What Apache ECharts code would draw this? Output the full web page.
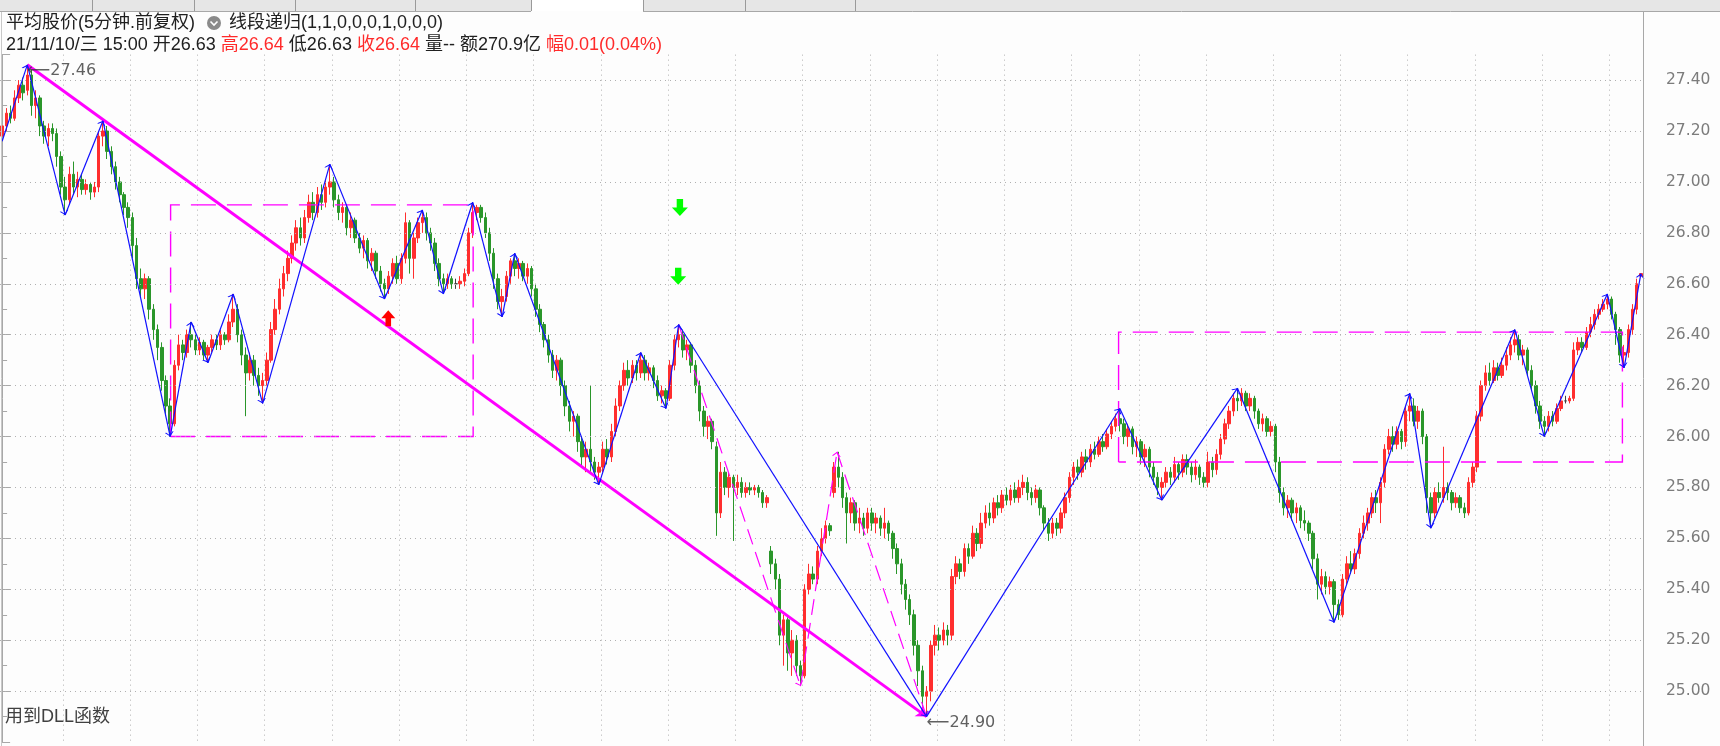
<!DOCTYPE html>
<html><head><meta charset="utf-8">
<script src="https://cdn.jsdelivr.net/npm/echarts@6/dist/echarts.min.js"></script>
<style>html,body{margin:0;padding:0;background:#fdfdfd;}#c{width:1720px;height:746px;}</style>
</head><body><div id="c"></div>
<script>
// [open, close, low, high] per 5-minute bar
const candles = [
[27.18,27.22,27.16,27.24],[27.22,27.27,27.20,27.29],[27.27,27.25,27.23,27.30],[27.25,27.33,27.24,27.36],[27.33,27.38,27.31,27.40],[27.38,27.35,27.32,27.41],[27.36,27.42,27.34,27.46],
[27.42,27.30,27.26,27.44],[27.30,27.33,27.25,27.36],[27.33,27.22,27.18,27.34],[27.22,27.18,27.15,27.24],[27.18,27.21,27.14,27.23],[27.21,27.19,27.16,27.23],[27.19,27.10,27.06,27.21],[27.10,26.98,26.95,27.12],[26.98,26.93,26.87,27.02],
[26.93,27.03,26.91,27.06],[27.03,26.98,26.95,27.08],[26.98,27.01,26.94,27.04],[27.01,26.97,26.95,27.03],[26.97,26.99,26.95,27.01],[26.99,26.96,26.93,27.00],[26.96,26.98,26.94,27.00],[26.98,27.18,26.96,27.20],[27.18,27.20,27.14,27.24],
[27.20,27.12,27.09,27.22],[27.12,27.06,27.03,27.14],[27.06,27.00,26.97,27.08],[27.00,26.95,26.92,27.02],[26.95,26.90,26.87,26.96],[26.90,26.86,26.82,26.92],[26.86,26.75,26.70,26.88],[26.75,26.62,26.58,26.78],[26.62,26.58,26.55,26.66],[26.58,26.62,26.54,26.64],[26.62,26.50,26.46,26.63],[26.50,26.42,26.38,26.52],[26.42,26.35,26.30,26.44],[26.35,26.22,26.18,26.37],[26.22,26.12,26.08,26.24],[26.12,26.05,26.00,26.15],
[26.05,26.28,26.04,26.30],[26.28,26.36,26.26,26.40],[26.36,26.33,26.30,26.38],[26.33,26.40,26.31,26.42],[26.40,26.38,26.35,26.45],
[26.38,26.34,26.32,26.40],[26.34,26.37,26.32,26.39],[26.37,26.32,26.30,26.38],[26.32,26.35,26.29,26.36],
[26.35,26.38,26.33,26.40],[26.38,26.36,26.34,26.40],[26.36,26.40,26.34,26.42],[26.40,26.38,26.36,26.41],[26.38,26.45,26.37,26.48],[26.45,26.50,26.43,26.56],
[26.50,26.40,26.37,26.52],[26.40,26.32,26.28,26.42],[26.32,26.25,26.08,26.35],[26.25,26.30,26.22,26.33],[26.30,26.24,26.20,26.32],[26.24,26.20,26.16,26.27],[26.20,26.22,26.13,26.25],
[26.22,26.30,26.20,26.33],[26.30,26.42,26.29,26.45],[26.42,26.50,26.40,26.54],[26.50,26.58,26.48,26.62],[26.58,26.64,26.55,26.67],[26.64,26.70,26.61,26.73],[26.70,26.76,26.68,26.79],[26.76,26.82,26.73,26.85],[26.82,26.78,26.75,26.86],[26.78,26.86,26.76,26.89],[26.86,26.92,26.84,26.95],[26.92,26.88,26.85,26.96],[26.88,26.95,26.86,26.98],[26.95,26.92,26.89,26.99],[26.92,26.98,26.90,27.01],[26.98,27.00,26.95,27.07],
[27.00,26.93,26.90,27.02],[26.93,26.88,26.85,26.95],[26.88,26.90,26.84,26.92],[26.90,26.82,26.79,26.91],[26.82,26.85,26.78,26.88],[26.85,26.78,26.76,26.86],[26.78,26.74,26.72,26.80],[26.74,26.77,26.70,26.79],[26.77,26.69,26.66,26.78],[26.69,26.72,26.65,26.74],[26.72,26.65,26.62,26.73],[26.65,26.60,26.57,26.67],[26.60,26.58,26.54,26.62],
[26.58,26.63,26.56,26.65],[26.63,26.68,26.60,26.70],[26.68,26.62,26.60,26.71],[26.62,26.70,26.60,26.72],[26.70,26.84,26.68,26.88],[26.84,26.70,26.64,26.85],[26.70,26.78,26.62,26.80],[26.78,26.84,26.76,26.86],[26.84,26.86,26.80,26.89],
[26.86,26.80,26.77,26.88],[26.80,26.76,26.73,26.82],[26.76,26.68,26.65,26.78],[26.68,26.62,26.59,26.70],[26.62,26.60,26.56,26.64],
[26.60,26.62,26.58,26.64],[26.62,26.60,26.58,26.63],[26.60,26.60,26.58,26.62],[26.60,26.61,26.58,26.63],[26.61,26.64,26.59,26.66],[26.64,26.80,26.63,26.82],[26.80,26.88,26.78,26.92],
[26.88,26.90,26.85,26.91],[26.90,26.86,26.84,26.91],[26.86,26.80,26.78,26.88],[26.80,26.72,26.69,26.82],[26.72,26.62,26.58,26.74],[26.62,26.53,26.50,26.64],[26.53,26.55,26.47,26.58],
[26.55,26.63,26.53,26.65],[26.63,26.69,26.60,26.70],[26.69,26.66,26.63,26.72],
[26.66,26.68,26.62,26.70],[26.68,26.63,26.61,26.69],[26.63,26.66,26.60,26.68],[26.66,26.58,26.55,26.67],[26.58,26.50,26.47,26.60],[26.50,26.44,26.41,26.52],[26.44,26.38,26.35,26.45],[26.38,26.32,26.29,26.40],[26.32,26.26,26.23,26.34],[26.26,26.30,26.22,26.32],[26.30,26.20,26.16,26.31],[26.20,26.12,26.08,26.22],[26.12,26.06,26.02,26.14],[26.06,26.08,26.00,26.10],[26.08,25.98,25.94,26.09],[25.98,25.92,25.88,26.00],[25.92,25.95,25.86,25.98],[25.95,25.90,25.86,26.20],[25.90,25.86,25.83,25.92],[25.86,25.88,25.81,25.90],
[25.88,25.95,25.86,25.98],[25.95,25.92,25.89,25.99],[25.92,26.02,25.90,26.05],[26.02,26.12,26.00,26.15],[26.12,26.20,26.10,26.22],[26.20,26.26,26.18,26.29],[26.26,26.23,26.20,26.30],[26.23,26.28,26.21,26.30],[26.28,26.25,26.22,26.30],[26.25,26.30,26.23,26.33],
[26.30,26.25,26.22,26.32],[26.25,26.27,26.22,26.29],[26.27,26.22,26.19,26.28],[26.22,26.16,26.14,26.24],[26.16,26.18,26.13,26.20],[26.18,26.15,26.11,26.19],
[26.15,26.28,26.14,26.30],[26.28,26.38,26.26,26.40],[26.38,26.40,26.35,26.44],
[26.40,26.34,26.31,26.42],[26.34,26.36,26.30,26.38],[26.36,26.28,26.25,26.37],[26.28,26.20,26.17,26.30],[26.20,26.10,26.06,26.22],[26.10,26.04,26.00,26.12],[26.04,26.06,25.99,26.08],[26.06,25.98,25.95,26.07],[25.96,25.70,25.61,25.98],[25.70,25.86,25.68,25.90],[25.86,25.80,25.77,25.88],[25.80,25.84,25.76,25.86],[25.84,25.80,25.59,25.85],[25.80,25.82,25.77,25.85],[25.82,25.78,25.76,25.84],[25.78,25.80,25.76,25.82],[25.80,25.79,25.77,25.82],[25.79,25.80,25.77,25.81],[25.80,25.78,25.76,25.81],[25.78,25.74,25.72,25.79],[25.74,25.76,25.72,25.77],
[25.55,25.50,25.46,25.57],[25.50,25.44,25.40,25.52],[25.44,25.22,25.18,25.46],[25.22,25.28,25.10,25.30],[25.28,25.15,25.08,25.29],[25.15,25.20,25.06,25.24],[25.20,25.10,25.06,25.22],[25.10,25.06,25.02,25.12],
[25.06,25.40,25.05,25.42],[25.40,25.46,25.38,25.50],[25.46,25.44,25.42,25.49],[25.44,25.55,25.42,25.57],[25.55,25.60,25.53,25.64],[25.60,25.65,25.58,25.67],[25.65,25.63,25.61,25.66],[25.78,25.88,25.76,25.90],[25.88,25.84,25.80,25.94],
[25.84,25.76,25.72,25.86],[25.76,25.70,25.58,25.78],[25.70,25.74,25.66,25.76],[25.74,25.66,25.63,25.75],[25.66,25.68,25.62,25.72],[25.68,25.64,25.61,25.70],[25.64,25.70,25.62,25.72],[25.70,25.66,25.63,25.72],[25.66,25.68,25.62,25.70],[25.68,25.64,25.61,25.69],[25.64,25.66,25.60,25.72],[25.66,25.62,25.59,25.67],[25.62,25.56,25.52,25.63],[25.56,25.50,25.46,25.58],[25.50,25.42,25.38,25.52],[25.42,25.36,25.32,25.44],[25.36,25.30,25.26,25.38],[25.30,25.18,25.14,25.32],[25.18,25.08,25.02,25.20],[25.08,24.98,24.94,25.10],[24.98,25.00,24.90,25.02],
[25.00,25.18,24.96,25.20],[25.18,25.22,25.14,25.26],[25.22,25.20,25.16,25.25],[25.20,25.24,25.18,25.27],[25.24,25.22,25.18,25.26],[25.22,25.45,25.20,25.48],[25.45,25.50,25.42,25.53],[25.50,25.47,25.44,25.52],[25.47,25.56,25.45,25.58],[25.56,25.53,25.50,25.58],[25.53,25.62,25.52,25.65],[25.62,25.58,25.55,25.64],[25.58,25.66,25.56,25.70],[25.66,25.70,25.64,25.73],[25.70,25.68,25.65,25.74],[25.68,25.74,25.66,25.76],[25.74,25.72,25.69,25.77],[25.72,25.77,25.70,25.79],[25.77,25.75,25.73,25.80],[25.75,25.79,25.73,25.81],[25.79,25.76,25.74,25.82],[25.76,25.80,25.74,25.83],[25.80,25.82,25.77,25.85],[25.82,25.78,25.75,25.84],[25.78,25.76,25.73,25.80],[25.76,25.79,25.74,25.81],[25.79,25.72,25.69,25.80],[25.72,25.66,25.63,25.73],[25.66,25.62,25.59,25.68],[25.62,25.66,25.60,25.68],[25.66,25.64,25.61,25.68],[25.64,25.70,25.62,25.72],[25.70,25.76,25.68,25.78],[25.76,25.84,25.74,25.86],[25.84,25.88,25.81,25.90],[25.88,25.86,25.83,25.91],[25.86,25.92,25.84,25.94],[25.92,25.90,25.87,25.95],[25.90,25.95,25.88,25.97],[25.95,25.93,25.91,25.98],[25.93,25.98,25.92,26.00],[25.98,25.96,25.94,26.01],[25.96,26.01,25.95,26.03],[26.01,26.04,25.99,26.06],[26.04,26.07,26.02,26.09],[26.07,26.05,26.02,26.11],
[26.05,26.00,25.97,26.07],[26.00,26.03,25.96,26.05],[26.03,25.96,25.93,26.04],[25.96,25.98,25.92,26.00],[25.98,25.92,25.89,25.99],[25.92,25.95,25.88,25.97],[25.95,25.88,25.84,25.96],[25.88,25.84,25.81,25.90],[25.84,25.80,25.77,25.86],[25.80,25.82,25.75,25.84],
[25.82,25.86,25.80,25.88],[25.86,25.84,25.81,25.88],[25.84,25.89,25.82,25.92],[25.89,25.86,25.83,25.90],[25.86,25.91,25.84,25.93],[25.91,25.88,25.85,25.93],[25.88,25.85,25.82,25.90],[25.85,25.88,25.83,25.91],[25.88,25.84,25.81,25.89],[25.84,25.82,25.80,25.86],[25.82,25.90,25.80,25.94],[25.90,25.87,25.84,25.92],[25.87,25.93,25.85,25.95],[25.93,25.99,25.91,26.01],[25.99,26.05,25.97,26.07],[26.05,26.10,26.03,26.12],[26.10,26.15,26.08,26.17],[26.15,26.14,26.10,26.19],
[26.14,26.17,26.12,26.19],[26.17,26.12,26.10,26.18],[26.12,26.15,26.10,26.17],[26.15,26.10,26.07,26.16],[26.10,26.05,26.03,26.11],[26.05,26.07,26.02,26.09],[26.07,26.02,26.00,26.08],[26.02,26.04,26.00,26.06],[26.04,25.90,25.86,26.05],[25.90,25.78,25.74,25.92],[25.78,25.72,25.69,25.80],[25.72,25.75,25.68,25.77],[25.75,25.70,25.67,25.76],[25.70,25.72,25.66,25.74],[25.72,25.67,25.64,25.73],[25.67,25.66,25.63,25.71],[25.66,25.62,25.59,25.67],[25.62,25.52,25.48,25.63],[25.52,25.42,25.36,25.54],[25.42,25.45,25.38,25.48],[25.45,25.41,25.38,25.47],[25.41,25.43,25.38,25.45],[25.43,25.34,25.27,25.44],
[25.34,25.30,25.28,25.36],[25.30,25.44,25.29,25.46],[25.44,25.50,25.42,25.53],[25.50,25.48,25.46,25.55],[25.48,25.54,25.46,25.56],[25.54,25.62,25.52,25.64],[25.62,25.66,25.60,25.69],[25.66,25.70,25.63,25.72],[25.70,25.76,25.68,25.78],[25.76,25.74,25.70,25.79],[25.74,25.82,25.66,25.84],[25.82,25.95,25.80,25.97],[25.95,26.00,25.93,26.03],[26.00,25.97,25.94,26.04],[25.97,26.02,25.95,26.04],[26.02,25.98,25.95,26.03],[25.98,26.10,25.96,26.12],[26.10,26.12,26.06,26.17],
[26.12,26.06,26.04,26.15],[26.06,26.10,26.03,26.12],[26.10,26.00,25.97,26.11],[26.00,25.76,25.70,26.01],[25.76,25.70,25.64,25.78],
[25.70,25.78,25.68,25.80],[25.78,25.76,25.74,25.82],[25.76,25.80,25.74,25.96],[25.80,25.78,25.75,25.82],[25.78,25.74,25.71,25.79],[25.74,25.76,25.72,25.78],[25.76,25.72,25.70,25.77],[25.72,25.70,25.68,25.74],[25.70,25.82,25.69,25.84],[25.82,25.88,25.80,25.90],[25.88,26.08,25.86,26.10],[26.08,26.20,26.06,26.22],[26.20,26.25,26.18,26.28],[26.25,26.22,26.20,26.29],[26.22,26.27,26.21,26.30],[26.27,26.24,26.22,26.29],[26.24,26.28,26.23,26.31],[26.28,26.32,26.26,26.35],[26.32,26.36,26.30,26.39],[26.36,26.38,26.33,26.42],
[26.38,26.32,26.30,26.40],[26.32,26.34,26.28,26.36],[26.34,26.26,26.24,26.35],[26.26,26.20,26.18,26.28],[26.20,26.12,26.09,26.22],[26.12,26.06,26.03,26.14],[26.06,26.04,26.00,26.08],
[26.04,26.08,26.02,26.10],[26.08,26.06,26.04,26.10],[26.06,26.11,26.05,26.13],[26.11,26.14,26.10,26.16],[26.14,26.14,26.13,26.16],[26.14,26.15,26.13,26.16],[26.15,26.34,26.14,26.37],[26.34,26.37,26.32,26.39],[26.37,26.35,26.33,26.39],[26.35,26.41,26.34,26.43],[26.41,26.44,26.39,26.47],[26.44,26.48,26.42,26.50],[26.48,26.50,26.46,26.52],[26.50,26.52,26.49,26.54],[26.52,26.54,26.50,26.56],
[26.54,26.48,26.46,26.55],[26.48,26.42,26.36,26.49],[26.42,26.32,26.29,26.43],[26.32,26.33,26.27,26.36],
[26.33,26.42,26.31,26.44],[26.42,26.50,26.40,26.52],[26.50,26.60,26.48,26.62],[26.63,26.64,26.63,26.64]
];
const yTickLabels = [25.00,25.20,25.40,25.60,25.80,26.00,26.20,26.40,26.60,26.80,27.00,27.20,27.40];
// zigzag pivots [barIndex, price]
const zigzag = [[0,27.16],[6,27.46],[15,26.87],[24,27.24],[40,26.00],[45,26.45],[49,26.29],[55,26.56],[62,26.13],[78,27.07],[91,26.54],[100,26.89],[105,26.56],[112,26.92],[119,26.47],[122,26.72],[142,25.81],[152,26.33],[158,26.11],[161,26.44],[220,24.90],[266,26.11],[276,25.75],[294,26.19],[317,25.27],[335,26.17],[340,25.64],[360,26.42],[367,26.00],[382,26.56],[386,26.27],[390,26.64]];
const dashedZigzag = [[161,26.44],[190,25.02],[198.7,25.94],[220,24.90]];
const trendLine = [[6,27.46],[220,24.90]];
const box1 = [[40.1,26.00],[112.1,26.91]];
const box2 = [[265.7,25.90],[385.6,26.41]];
const upSignals = [[91.9,26.465]];
const downSignals = [[161.3,26.90],[160.9,26.63]];
const extremeLabels = [[6,27.46],[220,24.90]];
const titleLine1a = '平均股价(5分钟.前复权)';
const titleLine1b = '线段递归(1,1,0,0,0,1,0,0,0)';
const footerText = '用到DLL函数';

const cats = candles.map((_, i) => String(i));
const segs = pts => pts.slice(1).map((p, k) => ({coords: [pts[k], p]}));
const rect = b => [[b[0][0],b[0][1]],[b[0][0],b[1][1]],[b[1][0],b[1][1]],[b[1][0],b[0][1]],[b[0][0],b[0][1]]];
const chevron = 'path://M5,-10 M0,10 L5,0 L10,10 L8.4,10 L5,3.2 L1.6,10 Z';
const upArrow = 'path://M5,0 L10,6 L7,6 L7,12 L3,12 L3,6 L0,6 Z';
const downArrow = 'path://M3,0 L7,0 L7,6 L10,6 L5,12 L0,6 L3,6 Z';
const HF = '18px "Liberation Sans", "Noto Sans CJK SC", sans-serif';
const tabEdges = [92, 194, 295, 415, 531, 643, 745, 855];

const chart = echarts.init(document.getElementById('c'));
chart.setOption({
  backgroundColor: '#fdfdfd',
  animation: false,
  grid: {left: 0, right: 77, top: 54.64, bottom: 3.94},
  xAxis: [
    {type: 'category', data: cats, boundaryGap: true,
     axisLine: {show: false}, axisTick: {show: false}, axisLabel: {show: false},
     splitLine: {show: true, interval: i => i >= 15 && (i - 15) % 16 === 0,
       lineStyle: {color: '#b0b0b0', type: [1, 4], width: 1}}},
    {type: 'value', min: -0.5, max: candles.length - 0.5, show: false}
  ],
  yAxis: {
    type: 'value', position: 'right', min: 24.8, max: 27.5, interval: 0.2,
    axisLine: {show: true, lineStyle: {color: '#a8a8a8'}},
    axisTick: {show: true, length: 8, lineStyle: {color: '#a8a8a8'}},
    minorTick: {show: true, splitNumber: 2, length: 5, lineStyle: {color: '#a8a8a8'}},
    axisLabel: {margin: 23, color: '#7c7c7c', fontSize: 15.5, fontFamily: 'DejaVu Sans',
      formatter: v => yTickLabels.some(t => Math.abs(t - v) < 1e-6) ? v.toFixed(2) : ''},
    splitLine: {show: false}
  },
  series: [
    {type: 'line', data: [], z: 1, silent: true,
     markLine: {silent: true, symbol: 'none', label: {show: false}, animation: false,
       lineStyle: {color: '#b0b0b0', type: [1, 4], width: 1},
       data: yTickLabels.map(v => ({yAxis: v}))}},
    {type: 'candlestick', data: candles, barWidth: 3, z: 3,
     itemStyle: {color: '#ff2e2e', color0: '#2a962a', borderColor: '#ff2e2e', borderColor0: '#2a962a', borderColorDoji: '#404040', borderWidth: 1}},
    {type: 'lines', coordinateSystem: 'cartesian2d', xAxisIndex: 1, yAxisIndex: 0, z: 4,
     data: [{coords: rect(box1)}, {coords: rect(box2)}], polyline: true, symbol: 'none',
     lineStyle: {color: '#ff00ff', width: 1.4, type: [25, 11], opacity: 1}},
    {type: 'lines', coordinateSystem: 'cartesian2d', xAxisIndex: 1, yAxisIndex: 0, z: 5,
     data: segs(dashedZigzag), symbol: ['none', chevron], symbolSize: 9,
     lineStyle: {color: '#ff00ff', width: 1.2, type: [16, 8], opacity: 1}},
    {type: 'lines', coordinateSystem: 'cartesian2d', xAxisIndex: 1, yAxisIndex: 0, z: 5,
     data: segs(trendLine), symbol: ['none', 'arrow'], symbolSize: 10,
     lineStyle: {color: '#ff00ff', width: 3, opacity: 1}},
    {type: 'lines', coordinateSystem: 'cartesian2d', xAxisIndex: 1, yAxisIndex: 0, z: 6,
     data: segs(zigzag), symbol: ['none', chevron], symbolSize: 9,
     lineStyle: {color: '#1010ff', width: 1.2, opacity: 1}},
    {type: 'scatter', xAxisIndex: 1, data: upSignals, symbol: upArrow, symbolSize: [14, 16], z: 7,
     itemStyle: {color: '#ff0000', opacity: 1}},
    {type: 'scatter', xAxisIndex: 1, data: downSignals, symbol: downArrow, symbolSize: [16, 17], z: 7,
     itemStyle: {color: '#00ff00', opacity: 1}},
    {type: 'scatter', xAxisIndex: 1, data: extremeLabels, symbolSize: 0, z: 8,
     label: {show: true, position: 'right', distance: 0, offset: [0, 6], color: '#383838', fontSize: 16,
       fontFamily: 'DejaVu Sans', formatter: p => '⟵' + p.value[1].toFixed(2)}}
  ],
  graphic: [
    {type: 'rect', left: 0, top: 0, shape: {width: 1720, height: 11}, style: {fill: '#e6e6e6'}, z: 10},
    {type: 'rect', left: 531, top: 0, shape: {width: 112, height: 11}, style: {fill: '#ffffff'}, z: 10},
    ...tabEdges.map(x => ({type: 'line', shape: {x1: x + 0.5, y1: 0, x2: x + 0.5, y2: 11}, style: {stroke: '#9a9a9a', lineWidth: 1}, z: 11})),
    {type: 'line', shape: {x1: 0, y1: 11.5, x2: 531, y2: 11.5}, style: {stroke: '#a8a8a8', lineWidth: 1}, z: 11},
    {type: 'line', shape: {x1: 643, y1: 11.5, x2: 1720, y2: 11.5}, style: {stroke: '#a8a8a8', lineWidth: 1}, z: 11},
    {type: 'line', shape: {x1: 1643.5, y1: 11, x2: 1643.5, y2: 746}, style: {stroke: '#a8a8a8', lineWidth: 1}, z: 10},
    {type: 'line', shape: {x1: 1.5, y1: 11, x2: 1.5, y2: 746}, style: {stroke: '#c8c8c8', lineWidth: 1}, z: 10},
    {type: 'text', x: 6, y: 23, z: 10, style: {text: titleLine1a, font: HF, fill: '#202020', verticalAlign: 'middle'}},
    {type: 'circle', shape: {cx: 214, cy: 23, r: 7}, style: {fill: '#8a8a8a'}, z: 10},
    {type: 'polyline', shape: {points: [[210.5, 21.5], [214, 25], [217.5, 21.5]]}, style: {stroke: '#ffffff', lineWidth: 1.6, fill: null}, z: 11},
    {type: 'text', x: 229, y: 23, z: 10, style: {text: titleLine1b, font: HF, fill: '#202020', verticalAlign: 'middle'}},
    {type: 'text', x: 6, y: 45, z: 10, style: {
      text: '{d|21/11/10/三 15:00 开26.63 }{r|高26.64}{d| 低26.63 }{r|收26.64}{d| 量-- 额270.9亿 }{r|幅0.01(0.04%)}',
      verticalAlign: 'middle',
      rich: {d: {fill: '#202020', font: HF}, r: {fill: '#ff2a2a', font: HF}}}},
    {type: 'text', x: 5, y: 717, z: 10, style: {text: footerText, font: HF, fill: '#404040', verticalAlign: 'middle'}}
  ]
});
</script>
</body></html>
